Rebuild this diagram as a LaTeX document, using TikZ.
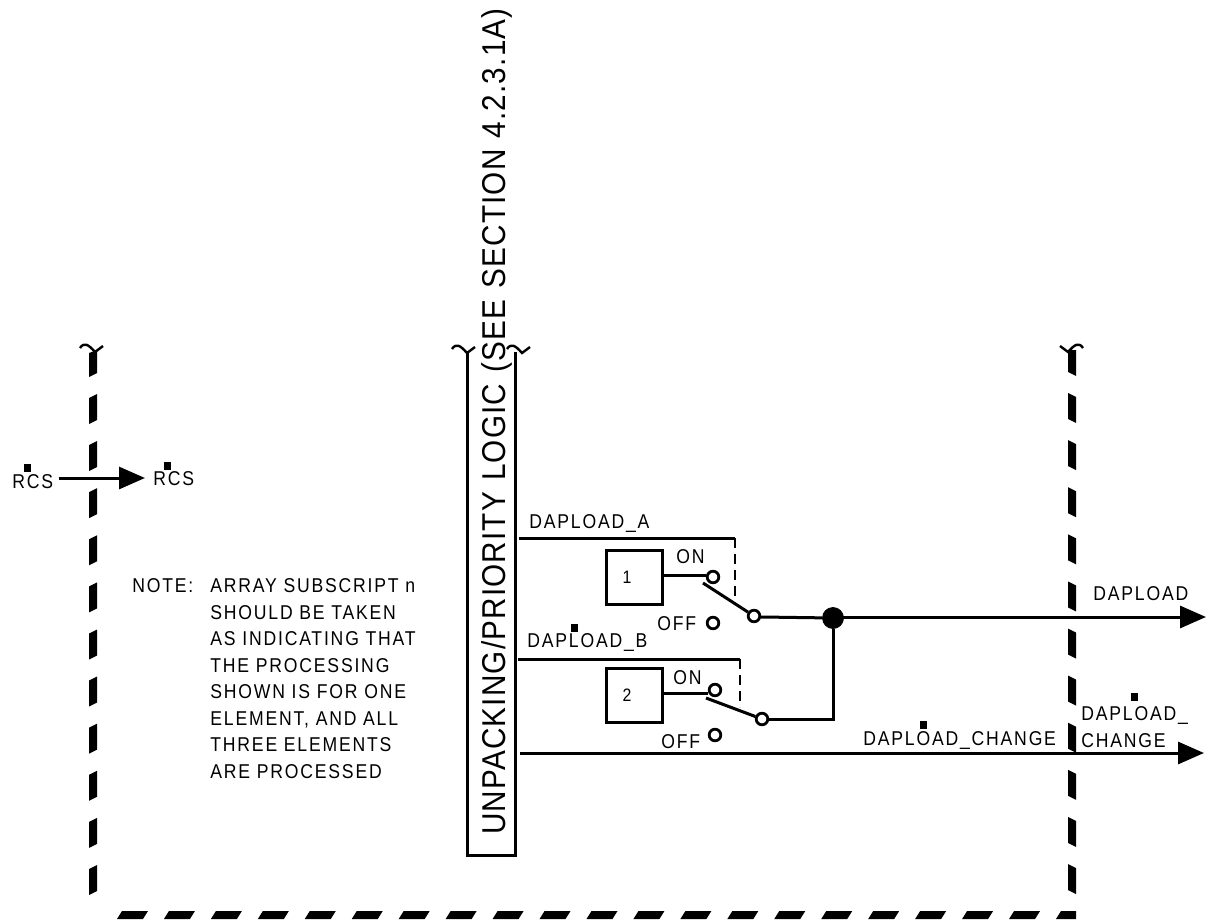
\documentclass[tikz,border=0pt]{standalone}
\usepackage{fontspec}
\usetikzlibrary{arrows.meta}
\newfontfamily\signalfont[LetterSpace=9,FakeStretch=0.88]{Liberation Sans}
\newfontfamily\barfont[LetterSpace=3.5,FakeStretch=0.9,WordSpace=1.2]{Liberation Sans}
\tikzset{
  signal/.style={anchor=base west, inner sep=0pt, font=\signalfont\fontsize{10}{10}\selectfont},
  contact/.style={draw, circle, fill=white, line width=1.4pt, inner sep=0pt, minimum size=5.8pt},
  wire/.style={line width=1.5pt},
  linkbar/.style={line width=1.4pt, dash pattern=on 5pt off 3pt},
  logicbox/.style={draw, line width=1.5pt, inner sep=0pt, minimum width=28pt, minimum height=27pt, font=\signalfont\fontsize{9}{9}\selectfont},
  flow/.style={wire, -{Triangle[length=13pt,width=11pt]}},
  breakmark/.pic={\draw[line width=1.2pt] (-15,-4) .. controls (-11,-10) and (-7,-8) .. (0,0) -- (8,-6);}
}
\newcommand{\overmark}[1]{\fill (#1) rectangle ++(7,8);}
\begin{document}
\begin{tikzpicture}[x=0.5pt, y=-0.5pt]
  \useasboundingbox (0,0) rectangle (1206,921);

  % dashed boundary
  \fill (89,353) -- (97,350) -- (97,373) -- (89,377) -- cycle;
  \foreach \i in {0,...,10}
    \fill (89,398+47.1*\i) -- (97,394+47.1*\i) -- (97,420+47.1*\i) -- (89,424+47.1*\i) -- cycle;
  \fill (1068,350) -- (1076,350) -- (1076,376) -- (1068,372) -- cycle;
  \foreach \i in {0,...,10}
    \fill (1068,393+47.1*\i) -- (1076,397+47.1*\i) -- (1076,423+47.1*\i) -- (1068,419+47.1*\i) -- cycle;
  \foreach \i in {0,...,19}
    \fill (117+46.95*\i,919) -- (122+46.95*\i,911) -- (148+46.95*\i,911) -- (143+46.95*\i,919) -- cycle;
  \fill (1056,919) -- (1061,911) -- (1076,911) -- (1076,919) -- cycle;
  \pic at (95,352) {breakmark};
  \pic[xscale=-1] at (1068,352) {breakmark};

  % unpacking bar
  \draw[line width=1.5pt] (467,352) -- (467,855) -- (515,855) -- (515,352);
  \pic at (467,353) {breakmark};
  \pic at (522,353) {breakmark};
  \node[rotate=90, anchor=base west, inner sep=0pt, font=\barfont\fontsize{16.5}{17}\selectfont] (barlabel) at (505,835)
    {UNPACKING/PRIORITY LOGIC (SEE SECTION 4.2.3.1A)};

  % rcs
  \node[signal] (rcsin) at (12,488) {RCS};
  \node[signal] (rcsout) at (153,485) {RCS};
  \overmark{24,464}
  \overmark{164,462}
  \draw[flow] (rcsin.east |- 0,478) ++(5,0) -- (145,478);

  % note
  \node[signal] (notehead) at (132,592.5) {NOTE:};
  \foreach \txt [count=\n from 0] in {ARRAY SUBSCRIPT n,SHOULD BE TAKEN,AS INDICATING THAT,THE PROCESSING,SHOWN IS FOR ONE,{ELEMENT, AND ALL},THREE ELEMENTS,ARE PROCESSED}
    \node[signal] (note\n) at (210,592.5+26.5*\n) {\txt};

  % switch A
  \node[logicbox] (boxA) at (634,577.5) {1\kern7pt};
  \node[contact] (onA) at (713,577) {};
  \node[contact] (offA) at (713,623) {};
  \node[contact] (poleA) at (754,616) {};
  \coordinate (cornerA) at (735,538);
  \coordinate (endA) at (735,600);
  \coordinate (bladeA) at (703,583);
  \draw[wire] (519,538) -- (cornerA);
  \draw[linkbar] (cornerA) -- (endA);
  \draw[wire] (boxA.east |- 0,575) -- (onA.west |- 0,575);
  \draw[wire] (bladeA) -- (poleA);
  \node[signal] (labA) at (529,528) {DAPLOAD\_A};
  \node[signal] (onlabA) at (676,563) {ON};
  \node[signal] (offlabA) at (657,630) {OFF};

  % switch B
  \node[logicbox] (boxB) at (634,695.5) {2\kern7pt};
  \node[contact] (onB) at (715,690) {};
  \node[contact] (offB) at (715,735) {};
  \node[contact] (poleB) at (762,719) {};
  \coordinate (cornerB) at (740,659);
  \coordinate (endB) at (740,707);
  \coordinate (bladeB) at (706,698);
  \draw[wire] (518,659) -- (cornerB);
  \draw[linkbar] (cornerB) -- (endB);
  \draw[wire] (boxB.east |- 0,693) -- (onB.west |- 0,693);
  \draw[wire] (bladeB) -- (poleB);
  \node[signal] (labB) at (527,647) {DAPLOAD\_B};
  \overmark{571,624}
  \node[signal] (onlabB) at (673,684) {ON};
  \node[signal] (offlabB) at (661,748) {OFF};

  % outputs
  \node[draw, circle, fill, inner sep=0pt, minimum size=10.5pt] (junction) at (833,618) {};
  \coordinate (outA) at (1206,617);
  \coordinate (outB) at (1204,753);
  \draw[wire] (poleA.east |- 0,617) -- (junction);
  \draw[flow] (junction |- outA) -- (outA);
  \draw[wire] (poleB) -| (junction);
  \draw[flow] (520,753) -- (outB);
  \node[signal] (outlabA) at (1093,600) {DAPLOAD};
  \node[signal] (outlabB) at (1081,720) {DAPLOAD\_};
  \node[signal] (outlabC) at (1081,747) {CHANGE};
  \overmark{1131,693}
  \node[signal] (changelab) at (863,745) {DAPLOAD\_CHANGE};
  \overmark{920,721}
\end{tikzpicture}
\end{document}
